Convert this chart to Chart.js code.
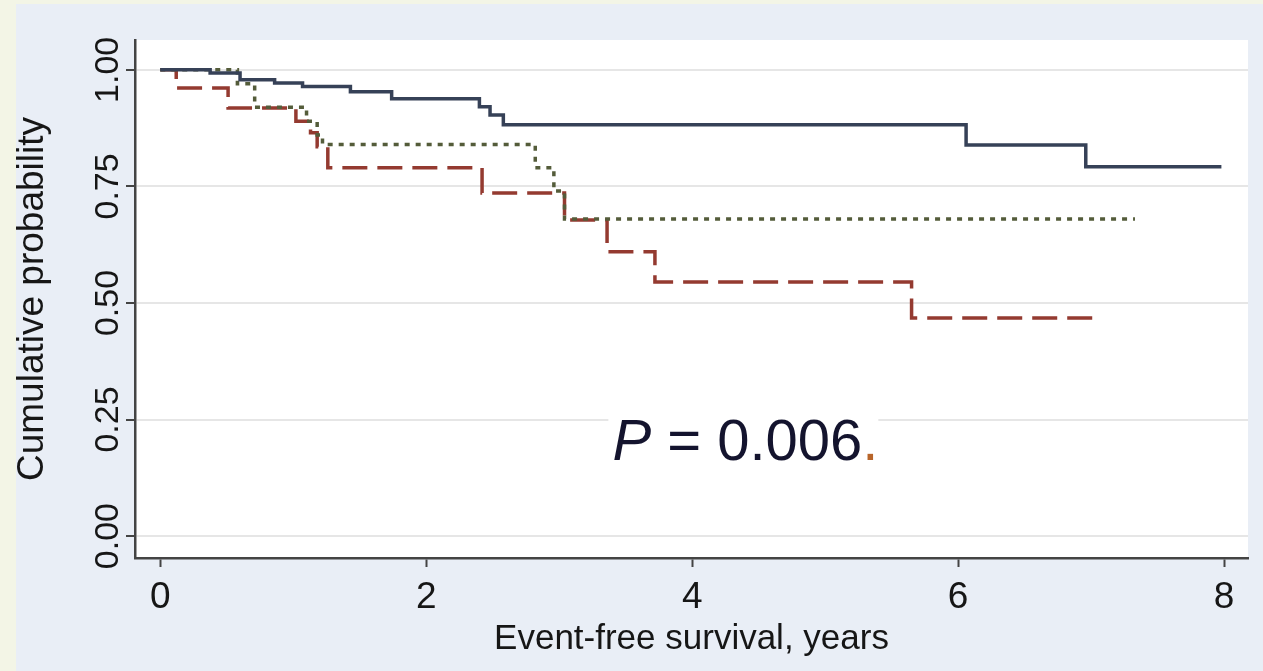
<!DOCTYPE html>
<html>
<head>
<meta charset="utf-8">
<script src="https://cdn.jsdelivr.net/npm/chart.js@4.4.1/dist/chart.umd.min.js"></script>
<style>
  html, body { margin: 0; padding: 0; background: #f3f5e6; }
  #wrap { width: 1263px; height: 671px; position: relative; }
</style>
</head>
<body>
<div id="wrap"><canvas id="km"></canvas></div>
<script>
// Kaplan-Meier steps: time (years) of each drop and survival after it; last point = end of follow-up
var solidTimes  = [0, 0.375, 0.60, 0.86, 1.07, 1.43, 1.74, 2.40, 2.48, 2.58, 6.06, 6.96, 7.98];
var solidSurv   = [1.00, 0.993, 0.979, 0.972, 0.964, 0.953, 0.938, 0.921, 0.903, 0.882, 0.839, 0.792, 0.792];

var dottedTimes = [0, 0.58, 0.71, 1.10, 1.18, 1.22, 2.82, 2.96, 3.04, 7.33];
var dottedSurv  = [1.00, 0.97, 0.92, 0.89, 0.86, 0.84, 0.79, 0.74, 0.68, 0.68];

var dashedTimes = [0, 0.12, 0.51, 1.02, 1.13, 1.18, 1.26, 2.42, 3.04, 3.36, 3.72, 5.65, 7.06];
var dashedSurv  = [1.00, 0.961, 0.918, 0.89, 0.865, 0.835, 0.79, 0.736, 0.678, 0.61, 0.545, 0.468, 0.468];

var xTicks = [0, 2, 4, 6, 8];
var yTicks = [0, 0.25, 0.5, 0.75, 1];
var yTickLabels = ['0.00', '0.25', '0.50', '0.75', '1.00'];

var pValue = '0.006';
var pAt = { x: 3.4, y: 0.163 };

var FONT = '"Liberation Sans", Arial, Helvetica, sans-serif';
var INK = '#161616';

function toPoints(times, surv) {
    return times.map(function (t, i) { return { x: t, y: surv[i] }; });
}

var panelBg = {
    id: 'panelBg',
    beforeDraw: function (chart) {
        var ctx = chart.ctx, a = chart.chartArea;
        ctx.save();
        ctx.fillStyle = '#f3f5e6';
        ctx.fillRect(0, 0, chart.width, chart.height);
        ctx.fillStyle = '#e9eef6';
        ctx.fillRect(16, 4, chart.width - 16, chart.height - 4);
        ctx.fillStyle = '#ffffff';
        ctx.fillRect(a.left, a.top, a.right - a.left, a.bottom - a.top);
        ctx.restore();
    }
};

// y tick labels are written vertically, like the original
var yLabels = {
    id: 'yLabels',
    afterDraw: function (chart) {
        var ctx = chart.ctx, y = chart.scales.y;
        ctx.save();
        ctx.font = '34px ' + FONT;
        ctx.fillStyle = INK;
        ctx.textAlign = 'center';
        ctx.textBaseline = 'middle';
        yTicks.forEach(function (v, i) {
            ctx.save();
            ctx.translate(chart.chartArea.left - 26, y.getPixelForValue(v));
            ctx.rotate(-Math.PI / 2);
            ctx.fillText(yTickLabels[i], 0, 0);
            ctx.restore();
        });
        ctx.restore();
    }
};

var pLabel = {
    id: 'pLabel',
    afterDatasetsDraw: function (chart) {
        var ctx = chart.ctx;
        var px = chart.scales.x.getPixelForValue(pAt.x);
        var py = chart.scales.y.getPixelForValue(pAt.y);
        ctx.save();
        ctx.textBaseline = 'alphabetic';
        ctx.font = 'italic 58px ' + FONT;
        var wP = ctx.measureText('P').width;
        ctx.font = '58px ' + FONT;
        var rest = ' = ' + pValue;
        var wR = ctx.measureText(rest).width;
        ctx.fillStyle = '#ffffff';
        ctx.fillRect(px - 4, py - 50, wP + wR + 20, 60);
        ctx.fillStyle = '#14142e';
        ctx.font = 'italic 58px ' + FONT;
        ctx.fillText('P', px, py);
        ctx.font = '58px ' + FONT;
        ctx.fillText(rest, px + wP, py);
        ctx.fillStyle = '#b8652a';
        ctx.fillText('.', px + wP + wR, py);
        ctx.restore();
    }
};

new Chart(document.getElementById('km'), {
    type: 'line',
    data: {
        datasets: [
            { data: toPoints(solidTimes, solidSurv), borderColor: '#364157', borderWidth: 3.5, stepped: 'before', pointRadius: 0, fill: false },
            { data: toPoints(dottedTimes, dottedSurv), borderColor: '#545c3a', borderWidth: 3.5, borderDash: [5, 6], stepped: 'before', pointRadius: 0, fill: false },
            { data: toPoints(dashedTimes, dashedSurv), borderColor: '#943a30', borderWidth: 3.5, borderDash: [25, 10], stepped: 'before', pointRadius: 0, fill: false }
        ]
    },
    options: {
        responsive: true,
        maintainAspectRatio: false,
        animation: false,
        devicePixelRatio: 1,
        layout: { padding: { top: 40, right: 15, left: 0, bottom: 0 } },
        plugins: { legend: { display: false }, tooltip: { enabled: false } },
        scales: {
            x: {
                type: 'linear',
                min: -0.19,
                max: 8.18,
                afterBuildTicks: function (scale) { scale.ticks = xTicks.map(function (v) { return { value: v }; }); },
                afterFit: function (scale) { scale.height = 113; },
                ticks: { color: INK, font: { family: FONT, size: 37 }, padding: 9, maxRotation: 0 },
                grid: { drawOnChartArea: false, drawTicks: true, tickLength: 9, tickColor: '#444444', tickWidth: 2 },
                border: { color: '#444444', width: 2.5 },
                title: { display: true, text: 'Event-free survival, years', color: INK, font: { family: FONT, size: 35 }, padding: { top: 0, bottom: 11 } }
            },
            y: {
                type: 'linear',
                min: -0.047,
                max: 1.064,
                afterBuildTicks: function (scale) { scale.ticks = yTicks.map(function (v) { return { value: v }; }); },
                afterFit: function (scale) { scale.width = 135; },
                ticks: { display: false },
                grid: { color: '#e6e6e6', lineWidth: 2, tickLength: 9, tickColor: '#444444', tickWidth: 2 },
                border: { color: '#444444', width: 2.5 },
                title: { display: true, text: 'Cumulative probability', color: INK, font: { family: FONT, size: 37 }, padding: { top: 11, bottom: 0 } }
            }
        }
    },
    plugins: [panelBg, yLabels, pLabel]
});
</script>
</body>
</html>
